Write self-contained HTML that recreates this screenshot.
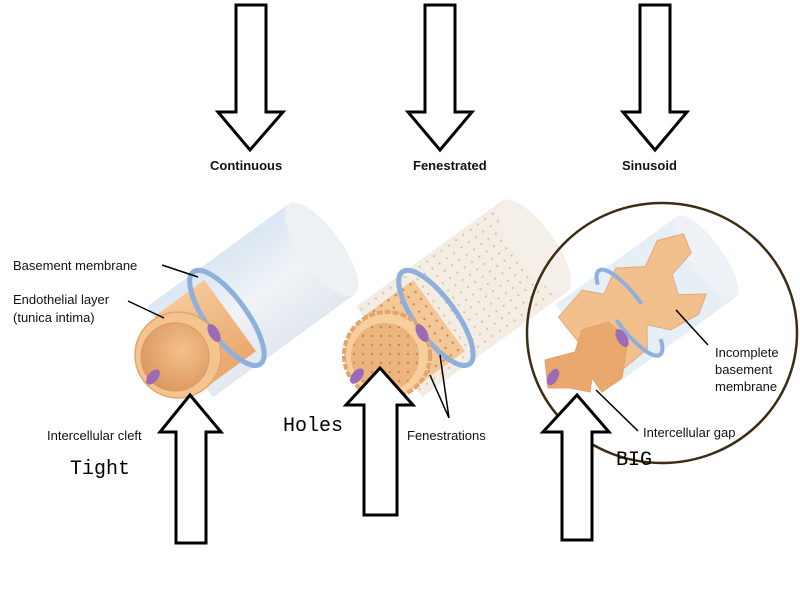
<!DOCTYPE html>
<html><head><meta charset="utf-8"><style>
body{margin:0;background:#fff}
svg{display:block}
text{font-family:"Liberation Sans",sans-serif;font-size:13px;fill:#111}
.m{font-family:"Liberation Mono",monospace;font-size:20px;fill:#000}
.b{font-weight:bold}
</style></head><body>
<svg width="800" height="600" viewBox="0 0 800 600" xmlns="http://www.w3.org/2000/svg">
<defs>
<linearGradient id="sh" x1="0" y1="0" x2="0" y2="1">
<stop offset="0" stop-color="#d6e4f2"/><stop offset="0.5" stop-color="#eef1f5"/><stop offset="1" stop-color="#dfe6ee"/>
</linearGradient>
<linearGradient id="or" x1="0" y1="0" x2="0" y2="1">
<stop offset="0" stop-color="#f5c896"/><stop offset="1" stop-color="#e9a86e"/>
</linearGradient>
<radialGradient id="in" cx="0.6" cy="0.4" r="0.7">
<stop offset="0" stop-color="#f3c08c"/><stop offset="1" stop-color="#d9955a"/>
</radialGradient>
<pattern id="dots" width="9" height="9" patternUnits="userSpaceOnUse">
<circle cx="3" cy="3" r="1.2" fill="#c98a55"/>
</pattern>
<pattern id="dots2" width="9" height="9" patternUnits="userSpaceOnUse">
<circle cx="3" cy="3" r="1.1" fill="#d8c2a8"/>
</pattern>
</defs>

<!-- Tube 1 -->
<g transform="translate(180,352) rotate(-36)">
<rect x="0" y="-56" width="175" height="112" fill="url(#sh)" opacity="0.9"/>
<ellipse cx="175" cy="0" rx="20" ry="56" fill="#eef1f4"/>
<rect x="0" y="-44" width="62" height="88" fill="url(#or)"/>
<ellipse cx="58" cy="0" rx="20" ry="57" fill="none" stroke="#8fb0dc" stroke-width="5"/>
</g>
<circle cx="178" cy="355" r="43" fill="#f3c48e" stroke="#e2a470" stroke-width="1.5"/>
<circle cx="175" cy="357" r="34" fill="url(#in)" stroke="#d99a64"/>
<ellipse cx="214" cy="333" rx="5" ry="10" fill="#9b6bb8" transform="rotate(-30 214 333)"/>
<ellipse cx="153" cy="377" rx="5" ry="9" fill="#9b6bb8" transform="rotate(40 153 377)"/>

<!-- Tube 2 -->
<g transform="translate(389,352) rotate(-36)">
<rect x="0" y="-56" width="180" height="112" fill="#f3ece2" opacity="0.95"/>
<rect x="0" y="-56" width="180" height="112" fill="url(#dots2)"/>
<ellipse cx="180" cy="0" rx="20" ry="56" fill="#f4efe8"/>
<rect x="0" y="-44" width="62" height="88" fill="#f3c896"/>
<rect x="0" y="-44" width="62" height="88" fill="url(#dots)"/>
<ellipse cx="58" cy="0" rx="20" ry="57" fill="none" stroke="#8fb0dc" stroke-width="5"/>
</g>
<circle cx="387" cy="355" r="43" fill="#f6cf9c" stroke="#e2a470" stroke-width="4" stroke-dasharray="6 2"/>
<circle cx="385" cy="357" r="34" fill="#eab47c"/>
<circle cx="385" cy="357" r="34" fill="url(#dots)"/>
<ellipse cx="422" cy="333" rx="5" ry="10" fill="#9b6bb8" transform="rotate(-30 422 333)"/>
<ellipse cx="357" cy="376" rx="5" ry="9" fill="#9b6bb8" transform="rotate(40 357 376)"/>

<!-- Tube 3 -->
<g transform="translate(585,345) rotate(-36)">
<rect x="0" y="-50" width="150" height="100" fill="#e2ebf5" opacity="0.85"/>
<ellipse cx="150" cy="0" rx="16" ry="50" fill="#eef2f7"/>
<path d="M-5 -38 L30 -46 L45 -30 L70 -44 L95 -28 L120 -42 L145 -32 L140 -12 L112 -6 L105 14 L128 30 L110 42 L78 38 L62 20 L48 40 L10 42 L18 18 L-3 8 Z" fill="#f2c08c" stroke="#e4a877"/>
<ellipse cx="55" cy="0" rx="15" ry="52" fill="none" stroke="#8fb0dc" stroke-width="4" stroke-dasharray="75 40" stroke-dashoffset="-40"/>
</g>
<path d="M545 360 L575 352 L582 330 L608 322 L628 338 L622 378 L602 392 L592 378 L590 392 L570 388 L548 388 Z" fill="#eaa86c" stroke="#e0a070"/>
<ellipse cx="622" cy="338" rx="5" ry="10" fill="#9b6bb8" transform="rotate(-30 622 338)"/>
<ellipse cx="553" cy="377" rx="5" ry="9" fill="#9b6bb8" transform="rotate(30 553 377)"/>
<ellipse cx="662" cy="333" rx="135" ry="130" fill="none" stroke="#3c2c12" stroke-width="2.5"/>

<!-- down arrows -->
<g fill="#fff" stroke="#000" stroke-width="3" stroke-linejoin="miter">
<path d="M236 5 H266 V112 H283 L250 150 L218 112 H236 Z"/>
<path d="M425 5 H455 V112 H472 L440 150 L408 112 H425 Z"/>
<path d="M640 5 H670 V112 H687 L655 150 L623 112 H640 Z"/>
<path d="M176 543 V432 H160 L190 395 L221 432 H206 V543 Z"/>
<path d="M364 515 V405 H346 L380 368 L413 405 H397 V515 Z"/>
<path d="M562 540 V432 H543 L577 395 L609 432 H592 V540 Z"/>
</g>

<g stroke="#000" stroke-width="1.5" fill="none">
<line x1="162" y1="265" x2="198" y2="277"/>
<line x1="128" y1="301" x2="164" y2="318"/>
<line x1="449" y1="418" x2="430" y2="375"/>
<line x1="449" y1="418" x2="440" y2="355"/>
<line x1="708" y1="345" x2="676" y2="310"/>
<line x1="638" y1="431" x2="596" y2="390"/>
</g>

<text class="b" x="210" y="170">Continuous</text>
<text class="b" x="413" y="170">Fenestrated</text>
<text class="b" x="622" y="170">Sinusoid</text>
<text x="13" y="270">Basement membrane</text>
<text x="13" y="304">Endothelial layer</text>
<text x="13" y="322">(tunica intima)</text>
<text x="47" y="440">Intercellular cleft</text>
<text x="407" y="440">Fenestrations</text>
<text x="715" y="357">Incomplete</text>
<text x="715" y="374">basement</text>
<text x="715" y="391">membrane</text>
<text x="643" y="437">Intercellular gap</text>
<text class="m" x="70" y="474">Tight</text>
<text class="m" x="283" y="431">Holes</text>
<text class="m" x="616" y="465">BIG</text>
</svg>
</body></html>
